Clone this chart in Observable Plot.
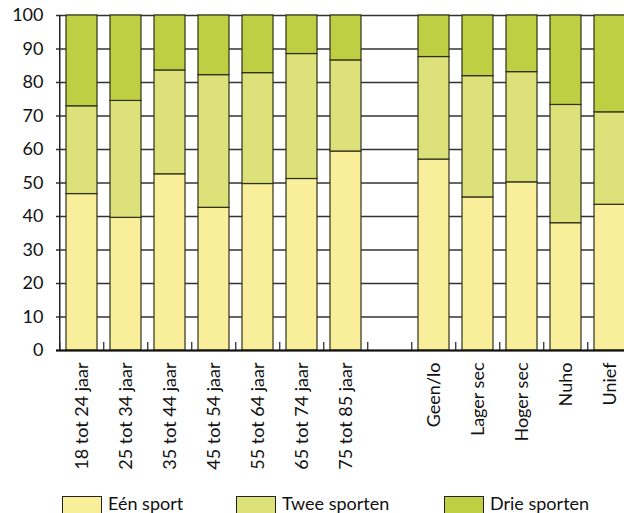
<!DOCTYPE html>
<html>
<head>
<meta charset="utf-8">
<script src="https://cdn.jsdelivr.net/npm/d3@7"></script>
<script src="https://cdn.jsdelivr.net/npm/@observablehq/plot@0.6"></script>
<style>
  html, body { margin: 0; padding: 0; background: #fff; overflow: hidden; }
  #wrap { position: relative; width: 624px; height: 513px; overflow: hidden; font-family: Lato, "Noto Sans", sans-serif; }
  #legend { position: absolute; left: 0; top: 494px; width: 624px; height: 19px; }
  .item { position: absolute; top: 0; display: flex; align-items: flex-start; font-size: 18px; line-height: 18px; color: #111; }
  .sw { width: 40px; height: 20px; border: 1px solid #222; box-sizing: border-box; margin-right: 6px; margin-top: 2px; }
</style>
</head>
<body>
<div id="wrap"><div id="chart"></div><div id="legend"></div></div>
<script>
const categories = ["18 tot 24 jaar", "25 tot 34 jaar", "35 tot 44 jaar", "45 tot 54 jaar", "55 tot 64 jaar", "65 tot 74 jaar", "75 tot 85 jaar", " ", "Geen/lo", "Lager sec", "Hoger sec", "Nuho", "Unief"];
const series = ["Eén sport", "Twee sporten", "Drie sporten"];
const een   = [46.7, 39.6, 52.6, 42.6, 49.7, 51.2, 59.4, null, 57.0, 45.7, 50.2, 38.0, 43.5];
const twee  = [26.2, 34.9, 31.0, 39.6, 33.1, 37.3, 27.2, null, 30.6, 36.2, 32.9, 35.3, 27.6];
const drie  = [27.1, 25.5, 16.4, 17.8, 17.2, 11.5, 13.4, null, 12.4, 18.1, 16.9, 26.7, 28.9];
const colors = ["#f9ef9a", "#dce279", "#bfcf43"];
const yTicks = [0, 10, 20, 30, 40, 50, 60, 70, 80, 90, 100];

const values = [een, twee, drie];
const data = [];
categories.forEach((c, i) => {
  series.forEach((s, j) => {
    if (values[j][i] != null) data.push({cat: c, serie: s, value: values[j][i]});
  });
});

const step = (624 + 10.5 - 56) / categories.length;

const plot = Plot.plot({
  width: 624,
  height: 513,
  marginLeft: 56,
  marginRight: -10.5,
  marginTop: 15,
  marginBottom: 163,
  style: {fontFamily: "Lato, 'Noto Sans', sans-serif", fontSize: "18px", color: "#111", background: "#fff"},
  x: {domain: categories, paddingInner: 0.3, paddingOuter: 0.15, axis: null, label: null},
  y: {domain: [0, 100], axis: null, label: null},
  color: {domain: series, range: colors},
  marks: [
    Plot.ruleY(yTicks, {stroke: "#333", strokeWidth: 1.3}),
    Plot.barY(data, {x: "cat", y: "value", fill: "serie", order: series, stroke: "#2f2f1a", strokeWidth: 1.2}),
    Plot.ruleX(categories, {x: d => d, dx: -step / 2, y1: 0, y2: 2.4, stroke: "#222", strokeWidth: 1.2}),
    Plot.ruleX([0], {x: () => categories[0], dx: -step / 2, y1: 0, y2: 100, stroke: "#222", strokeWidth: 1.5}),
    Plot.ruleY([0], {stroke: "#111", strokeWidth: 1.8}),
    Plot.axisY({ticks: yTicks, tickSize: 0, tickPadding: 13, fontSize: 18, label: null}),
    Plot.axisX({tickRotate: -90, tickSize: 0, tickPadding: 12, fontSize: 18, label: null})
  ]
});
document.getElementById("chart").appendChild(plot);

const legend = document.getElementById("legend");
const lx = [62, 236, 444];
series.forEach((s, i) => {
  const it = document.createElement("div");
  it.className = "item";
  it.style.left = lx[i] + "px";
  const sw = document.createElement("div");
  sw.className = "sw";
  sw.style.background = colors[i];
  const t = document.createElement("span");
  t.textContent = s;
  it.appendChild(sw);
  it.appendChild(t);
  legend.appendChild(it);
});
</script>
</body>
</html>
